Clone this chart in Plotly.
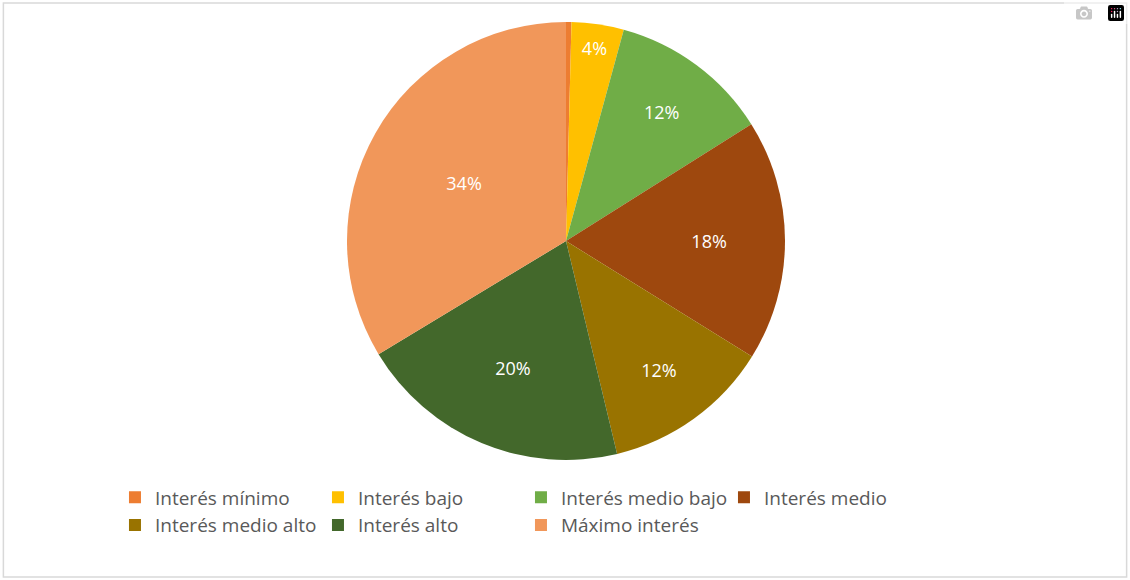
import plotly.graph_objects as go

labels = ["Interés mínimo", "Interés bajo", "Interés medio bajo", "Interés medio",
          "Interés medio alto", "Interés alto", "Máximo interés"]
values = [0.4, 3.85, 11.8, 17.8, 12.4, 20.1, 33.65]
colors = ["#ED7D31", "#FFC000", "#70AD47", "#9E480E", "#997300", "#43682B", "#F1975A"]
templates = [""] + ["%{percent:.0%}"] * 6

fig = go.Figure(go.Pie(
    labels=labels, values=values, sort=False, direction="clockwise", rotation=0,
    marker=dict(colors=colors, line=dict(width=0)),
    texttemplate=templates, textposition="inside", insidetextorientation="horizontal",
    textfont=dict(color="white", size=18, family="Open Sans"),
    domain=dict(x=[347/1130, 785/1130], y=[1-460/580, 1-22/580]),
    hoverinfo="label+percent",
))
fig.update_layout(
    width=1130, height=580, margin=dict(l=0, r=0, t=0, b=0),
    paper_bgcolor="white", font=dict(family="Open Sans", color="#595959"),
    legend=dict(orientation="h", x=160/1130, y=0.175, xanchor="left", yanchor="top",
                entrywidth=158, entrywidthmode="pixels", font=dict(size=19, color="#595959"),
                itemwidth=30, tracegroupgap=0),
    shapes=[dict(type="rect", xref="paper", yref="paper", x0=0.003, y0=0.005, x1=0.997, y1=0.995,
                 line=dict(color="#D9D9D9", width=1.5))],
)
fig.write_html("out.html")
with open("out.html", encoding="utf-8") as f:
    html = f.read()
html = html.replace("<head>", "<head><style>html,body{margin:0;padding:0;overflow:hidden}</style>", 1)
with open("out.html", "w", encoding="utf-8") as f:
    f.write(html)
